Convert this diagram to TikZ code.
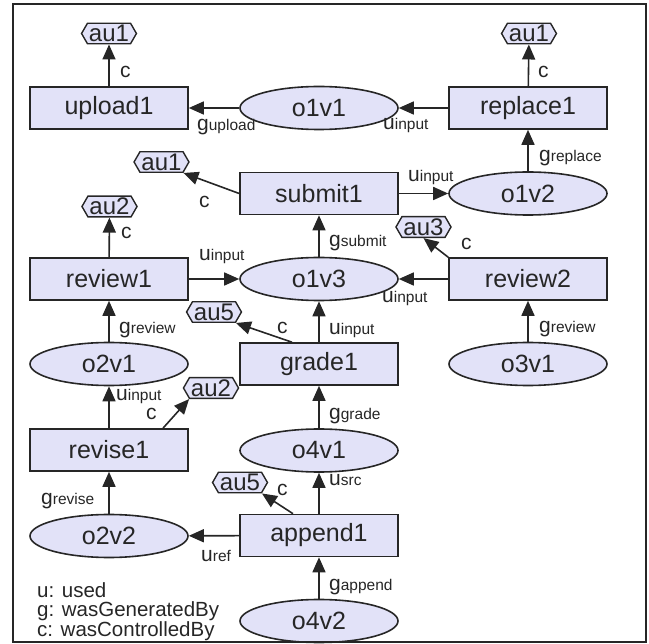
\documentclass[tikz,border=0pt]{standalone}
\usepackage{fontspec}
\setmainfont{Liberation Sans}
\usepackage{xcolor}
\usepackage{tikz}
\usetikzlibrary{arrows.meta,shapes.geometric,shapes.symbols}
\definecolor{ink}{HTML}{262626}
\definecolor{lav}{HTML}{E2E2F8}
\newcommand{\provLbl}[2]{{\fontsize{21}{21}\selectfont #1}{\fontsize{15.5}{15.5}\selectfont #2}}
\tikzset{
  provBox/.style={draw=ink, fill=lav, line width=1.6pt, minimum width=158pt, minimum height=42pt,
    inner sep=0pt, text=ink, font=\fontsize{25}{25}\selectfont},
  provEllipse/.style={ellipse, draw=ink, fill=lav, line width=1.6pt, minimum width=158pt, minimum height=43pt,
    inner sep=0pt, text=ink, font=\fontsize{25}{25}\selectfont},
  provAgent/.style={signal, signal to=east and west, signal pointer angle=120, draw=ink, fill=lav,
    line width=1.4pt, inner xsep=1.5pt, inner ysep=1.9pt, text=ink, font=\fontsize{24}{24}\selectfont},
  provArrow/.style={draw=ink, line width=1.6pt, -{Triangle[length=15pt,width=13pt]}},
  provLabel/.style={anchor=west, inner sep=0pt, text=ink},
  provLegend/.style={anchor=west, align=left, inner sep=0pt, text=ink, font=\fontsize{20.5}{18.5}\selectfont}
}
\begin{document}
\begin{tikzpicture}[x=1pt,y=-1pt]
  \useasboundingbox (0,0) rectangle (649,644);

  % processes and artifacts
  \node[provBox] (upload1) at (109,108) {upload1};
  \node[provEllipse] (o1v1) at (319,108) {o1v1};
  \node[provBox] (replace1) at (528,108) {replace1};
  \node[provBox] (submit1) at (319,193.5) {submit1};
  \node[provEllipse] (o1v2) at (528,193.5) {o1v2};
  \node[provBox] (review1) at (109,279) {review1};
  \node[provEllipse] (o1v3) at (319,279) {o1v3};
  \node[provBox] (review2) at (528,279) {review2};
  \node[provEllipse] (o2v1) at (109,364) {o2v1};
  \node[provBox] (grade1) at (319,364) {grade1};
  \node[provEllipse] (o3v1) at (528,364) {o3v1};
  \node[provBox] (revise1) at (109,450) {revise1};
  \node[provEllipse] (o4v1) at (319,450.5) {o4v1};
  \node[provEllipse] (o2v2) at (109,536) {o2v2};
  \node[provBox] (append1) at (319,535.5) {append1};
  \node[provEllipse] (o4v2) at (319,621) {o4v2};

  % agents
  \node[provAgent] (auA) at (109,33.5) {au1};
  \node[provAgent] (auB) at (529,33.5) {au1};
  \node[provAgent] (auC) at (161.5,162) {au1};
  \node[provAgent] (auD) at (109.5,206.5) {au2};
  \node[provAgent] (auE) at (423.5,227) {au3};
  \node[provAgent] (auF) at (214,312) {au5};
  \node[provAgent] (auG) at (211,388) {au2};
  \node[provAgent] (auH) at (240,482.5) {au5};

  \draw[provArrow] (o1v1) -- (upload1);
  \draw[provArrow] (upload1) -- (auA);
  \draw[provArrow] (replace1) -- (o1v1);
  \draw[provArrow] (replace1) -- (auB);
  \draw[provArrow] (o1v2) -- (replace1);
  \draw[provArrow] (submit1) -- (o1v2);
  \draw[provArrow] (submit1.west) -- (auC.south east);
  \draw[provArrow] (o1v3) -- (submit1);
  \draw[provArrow] (review1) -- (auD);
  \draw[provArrow] (review1) -- (o1v3);
  \draw[provArrow] (review2) -- (o1v3);
  \draw[provArrow] (review2.north west) -- (auE.south);
  \draw[provArrow] (o3v1) -- (review2);
  \draw[provArrow] (grade1) -- (o1v3);
  \draw[provArrow] ([xshift=-27pt]grade1.north) -- (auF.south east);
  \draw[provArrow] (o2v1) -- (review1);
  \draw[provArrow] (o4v1) -- (grade1);
  \draw[provArrow] (revise1) -- (o2v1);
  \draw[provArrow] ([xshift=54pt]revise1.north) -- (auG.south west);
  \draw[provArrow] (o2v2) -- (revise1);
  \draw[provArrow] (append1) -- (o2v2);
  \draw[provArrow] (append1) -- (o4v1);
  \draw[provArrow] ([xshift=-26pt]append1.north) -- (auH.south east);
  \draw[provArrow] (o4v2) -- (append1);

  % edge labels
  \node[provLabel] (lbA) at (197,127) {\provLbl{g}{upload}};
  \node[provLabel] (lbB) at (120,72) {\provLbl{c}{}};
  \node[provLabel] (lbC) at (383,125) {\provLbl{u}{input}};
  \node[provLabel] (lbD) at (538,72) {\provLbl{c}{}};
  \node[provLabel] (lbE) at (539,158) {\provLbl{g}{replace}};
  \node[provLabel] (lbF) at (408,177) {\provLbl{u}{input}};
  \node[provLabel] (lbG) at (199,202) {\provLbl{c}{}};
  \node[provLabel] (lbH) at (329,243) {\provLbl{g}{submit}};
  \node[provLabel] (lbI) at (121,233) {\provLbl{c}{}};
  \node[provLabel] (lbJ) at (199,256) {\provLbl{u}{input}};
  \node[provLabel] (lbK) at (382,298) {\provLbl{u}{input}};
  \node[provLabel] (lbL) at (461,244) {\provLbl{c}{}};
  \node[provLabel] (lbM) at (539,329) {\provLbl{g}{review}};
  \node[provLabel] (lbN) at (329,330) {\provLbl{u}{input}};
  \node[provLabel] (lbO) at (277,328) {\provLbl{c}{}};
  \node[provLabel] (lbP) at (119,330) {\provLbl{g}{review}};
  \node[provLabel] (lbQ) at (329,416) {\provLbl{g}{grade}};
  \node[provLabel] (lbR) at (116,396) {\provLbl{u}{input}};
  \node[provLabel] (lbS) at (146,414) {\provLbl{c}{}};
  \node[provLabel] (lbT) at (41,501) {\provLbl{g}{revise}};
  \node[provLabel] (lbU) at (201,556) {\provLbl{u}{ref}};
  \node[provLabel] (lbV) at (329,480) {\provLbl{u}{src}};
  \node[provLabel] (lbW) at (277,490) {\provLbl{c}{}};
  \node[provLabel] (lbX) at (329,587) {\provLbl{g}{append}};

  \node[provLegend] (legend) at (37,612) {u: used\\g: wasGeneratedBy\\c: wasControlledBy};

  \draw[ink, line width=2pt] (13,4) rectangle (646,642);
\end{tikzpicture}
\end{document}
